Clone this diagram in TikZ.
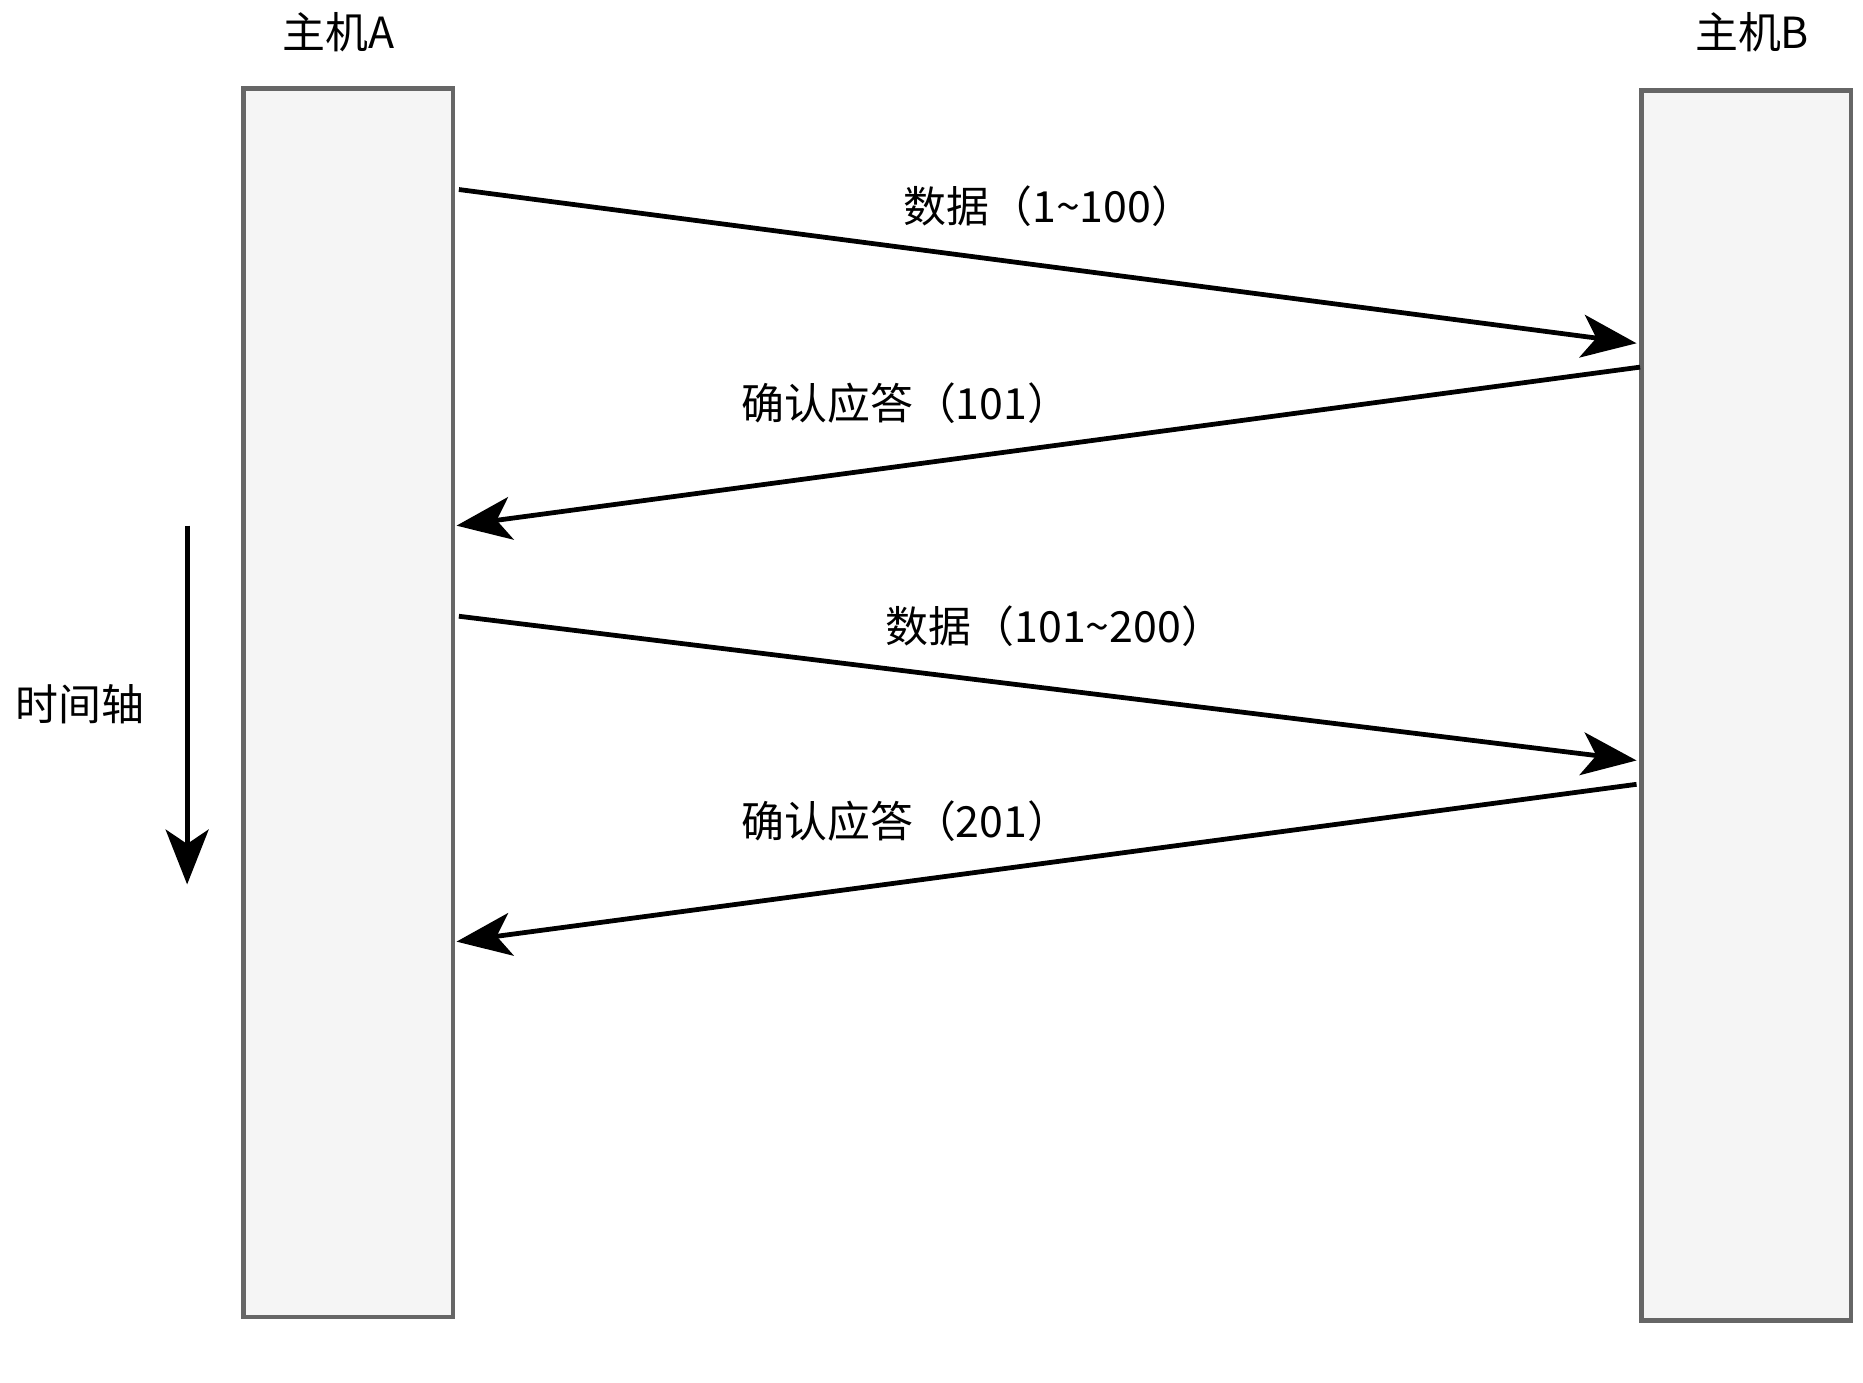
\documentclass[tikz,border=0pt]{standalone}
\usepackage{fontspec}
\setmainfont{Noto Sans CJK SC}
\usetikzlibrary{arrows.meta}
\newcommand{\tld}{\char"7E\relax}
\begin{document}
\begin{tikzpicture}[x=1pt,y=-1pt,
  host/.style={draw=black!60,fill=black!4,line width=4pt,minimum width=176pt,inner sep=0pt},
  msg/.style={line width=4pt,-{Stealth[length=46pt,width=36pt,inset=12pt]}},
  lbl/.style={font=\fontsize{36}{40}\selectfont,inner sep=0pt}]
\useasboundingbox (0,0) rectangle (1563,1160);
\node[host,minimum height=1031pt] (A) at (292,589.5) {};
\node[host,minimum height=1032pt] (B) at (1465,592) {};
\node[lbl] (la) at (284,27) {主机A};
\node[lbl] (lb) at (1470,27) {主机B};
\coordinate (a1) at (385,159); \coordinate (b1) at (1373,288);
\coordinate (b2) at (1376,308); \coordinate (a2) at (383,441);
\coordinate (a3) at (385,517); \coordinate (b3) at (1373,638);
\coordinate (b4) at (1373,658); \coordinate (a4) at (383,790);
\draw[msg] (a1) -- (b1);
\draw[msg] (b2) -- (a2);
\draw[msg] (a3) -- (b3);
\draw[msg] (b4) -- (a4);
\node[lbl] (m1) at (880,173) {数据（1\tld 100）};
\node[lbl] (m2) at (760,338) {确认应答（101）};
\node[lbl] (m3) at (885,525) {数据（101\tld 200）};
\node[lbl] (m4) at (760,689) {确认应答（201）};
\coordinate (t1) at (157,441); \coordinate (t2) at (157,742);
\draw[msg] (t1) -- (t2);
\node[lbl] (t) at (67,591) {时间轴};
\end{tikzpicture}
\end{document}
